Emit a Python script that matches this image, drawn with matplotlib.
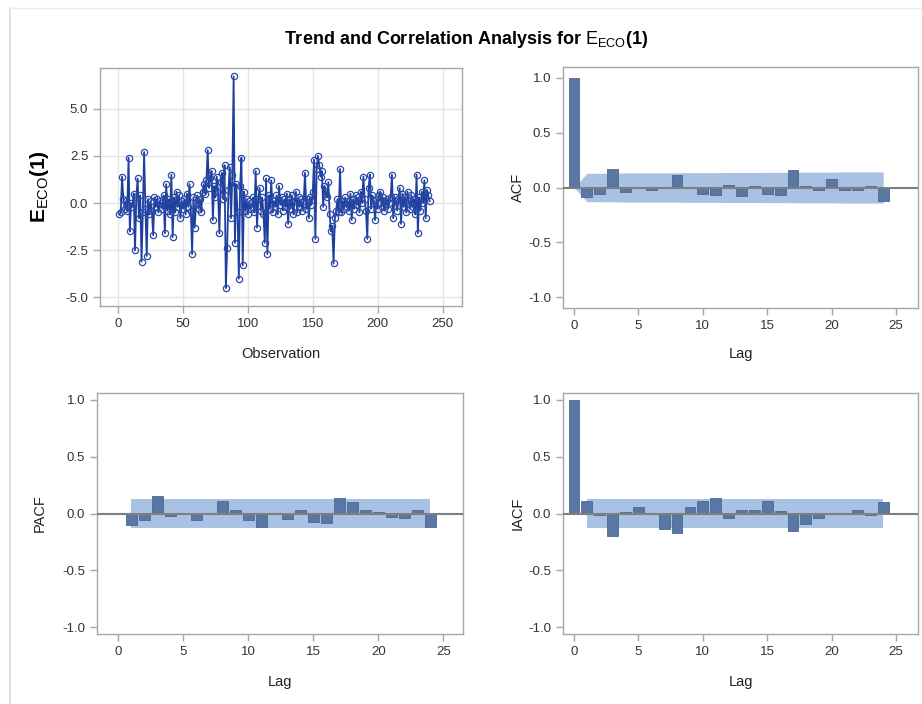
import numpy as np
import matplotlib
matplotlib.use("Agg")
import matplotlib.pyplot as plt

plt.rcParams['font.family'] = ['Liberation Sans', 'DejaVu Sans']
plt.rcParams['mathtext.fontset'] = 'custom'
plt.rcParams['mathtext.rm'] = 'Liberation Sans'
plt.rcParams['mathtext.bf'] = 'Liberation Sans:bold'
plt.rcParams['mathtext.it'] = 'Liberation Sans:italic'

# ---------------- data ----------------
series = [
    -0.6, -0.5, 1.4, 0.2, -0.3, 0.1, -0.4, 2.4, -1.5, 0.0,
    -0.2, 0.5, -2.5, 0.3, 1.3, -0.8, 0.4, -3.1, -0.5, 2.7,
    -0.3, -2.8, 0.2, -0.6, 0.1, -0.4, -1.7, 0.3, -0.2, 0.2,
    -0.5, 0.1, 0.0, -0.3, 0.4, -1.6, 1.0, -0.4, 0.2, -0.6,
    1.5, -1.8, 0.3, -0.5, 0.6, -0.2, 0.4, -0.8, 0.1, -0.3,
    0.2, -0.6, 0.5, -0.2, 1.0, -0.4, -2.7, 0.3, -1.3, 0.0,
    0.4, -0.3, 0.2, -0.5, 0.6, 1.0, 0.5, 1.2, 2.8, 0.8,
    1.3, 1.7, -0.9, 0.9, 0.3, 1.4, 0.6, -1.6, 1.1, 1.6,
    0.2, 2.0, -4.5, -2.4, 0.7, 1.9, -0.8, 1.5, 6.7, -2.1,
    1.0, -0.5, -4.0, 0.9, 2.4, -3.3, 0.6, -0.4, 0.2, -0.6,
    0.1, -0.3, -0.2, 0.3, -0.5, 1.7, -1.3, 0.2, 0.8, -0.4,
    0.3, -0.6, -2.1, 1.3, -2.7, 0.4, -0.3, 1.2, -0.5, 0.1,
    -0.2, 0.4, -0.6, 0.9, -0.1, 0.3, -0.4, 0.2, -0.2, 0.5,
    -1.1, 0.2, -0.3, 0.4, -0.6, 0.1, 0.6, -0.5, 0.3, -0.2,
    0.2, -0.4, 0.1, 1.6, -0.3, 0.2, -0.8, 0.3, -0.1, 0.6,
    2.3, -1.9, 1.8, 2.5, 2.0, 1.4, 1.7, -0.2, 0.9, 0.5,
    0.3, 1.1, -0.6, -1.5, -1.2, -3.2, -0.8, -0.4, 0.2, -0.5,
    1.8, -0.5, 0.1, -0.3, 0.3, -0.2, 0.1, -0.4, 0.5, -0.9,
    0.2, -0.3, 0.4, -0.1, 0.3, -0.5, 0.6, 0.0, 1.4, 0.2,
    -0.4, -1.9, 0.8, 1.5, -0.3, 0.4, 0.1, -0.9, 0.2, -0.3,
    0.4, 0.6, -0.2, 0.3, -0.4, 0.1, 0.2, -0.3, 0.0, 0.3,
    1.5, -0.8, 0.3, 0.1, -0.4, 0.2, 0.8, -1.1, 0.5, -0.2,
    0.3, -0.5, 0.6, 0.1, -0.3, 0.4, -0.2, 0.2, -0.6, 1.5,
    -1.6, 0.3, -0.4, 0.6, 0.0, 1.2, -0.8, 0.7, 0.4, 0.1,
]
observation = list(range(1, len(series) + 1))

lags = list(range(0, 25))
acf = [1.0, -0.09, -0.06, 0.17, -0.045, -0.005, -0.02, 0.0, 0.115, -0.005,
       -0.055, -0.065, 0.02, -0.08, 0.015, -0.06, -0.065, 0.16, 0.015, -0.02,
       0.08, -0.02, -0.025, 0.015, -0.125]
acf_band = [0.0, 0.129, 0.130, 0.130, 0.134, 0.134, 0.134, 0.134, 0.134, 0.136,
            0.136, 0.136, 0.137, 0.137, 0.137, 0.138, 0.138, 0.139, 0.141, 0.141,
            0.141, 0.142, 0.142, 0.142, 0.142]

pacf_lags = list(range(1, 25))
pacf = [-0.10, -0.06, 0.15, -0.02, -0.005, -0.06, 0.005, 0.11, 0.03, -0.06,
        -0.12, 0.0, -0.05, 0.035, -0.075, -0.08, 0.14, 0.10, 0.035, 0.015,
        -0.03, -0.04, 0.035, -0.12]
pacf_band = 0.125

iacf = [1.0, 0.113, -0.01, -0.2, 0.01, 0.06, 0.005, -0.14, -0.17, 0.053,
        0.11, 0.14, -0.04, 0.03, 0.03, 0.11, 0.024, -0.155, -0.09, -0.04,
        -0.005, 0.0, 0.033, -0.01, 0.10]
iacf_band = 0.125

# ---------------- style ----------------
W, H = 922, 704
fig = plt.figure(figsize=(W / 100, H / 100), dpi=100)
fig.patch.set_facecolor('white')

FRAME = '#a6a6a6'
BAR = '#5a76a4'
BAND = '#a9c2e4'
LINEC = '#1f3f9e'
TS = 9.5


def ax_at(l, t, r, b):
    return fig.add_axes([l / W, 1 - b / H, (r - l) / W, (b - t) / H])


def style(ax):
    for s in ax.spines.values():
        s.set_color(FRAME)
        s.set_linewidth(1.0)
    ax.tick_params(direction='out', length=5, width=1, color=FRAME,
                   labelcolor='#333333', labelsize=TS)


# outer faint frame
fig.add_artist(plt.Line2D([10 / W, 10 / W], [0, 1 - 8 / H], color='#dcdcdc', lw=1.2))
fig.add_artist(plt.Line2D([10 / W, 1], [1 - 8 / H, 1 - 8 / H], color='#ececec', lw=1.0))

# title
fig.text(466 / W, 1 - 40 / H,
         r'Trend and Correlation Analysis for $\mathrm{E}_{\mathrm{ECO}}\mathbf{(1)}$',
         ha='center', va='center', fontsize=13, fontweight='bold', color='black')

# ---- panel 1: series ----
ax1 = ax_at(100, 68, 462, 306)
style(ax1)
ax1.grid(True, color='#e4e4e4', lw=1)
ax1.set_axisbelow(True)
ax1.plot(observation, series, color=LINEC, lw=1.3, marker='o', ms=4.5,
         mfc='none', mec='#2a4aa8', mew=0.9)
ax1.set_xlim(-14, 265)
ax1.set_ylim(-5.45, 7.15)
ax1.set_xticks([0, 50, 100, 150, 200, 250])
ax1.set_yticks([-5.0, -2.5, 0.0, 2.5, 5.0])
ax1.set_yticklabels(['-5.0', '-2.5', '0.0', '2.5', '5.0'])
ax1.set_xlabel('Observation', fontsize=10.5, color='#222222')
ax1.xaxis.set_label_coords(0.5, -(347 - 306) / 238)
ax1.set_ylabel(r'$\mathbf{E}_{\mathrm{ECO}}\mathbf{(1)}$', fontsize=15, color='black')
ax1.yaxis.set_label_coords(-(100 - 51) / 362, 0.5)


def corr_panel(ax, x, y, band_x, band_lo, band_hi, xlim, ylim, label):
    style(ax)
    ax.fill_between(band_x, band_lo, band_hi, color=BAND, lw=0, zorder=1)
    ax.bar(x, y, width=0.84, color=BAR, edgecolor='#4d6890', lw=0.6, zorder=2)
    ax.axhline(0, color='#7f7f7f', lw=1.5, zorder=3)
    ax.set_xlim(*xlim)
    ax.set_ylim(*ylim)
    ax.set_xticks([0, 5, 10, 15, 20, 25])
    ax.set_yticks([-1.0, -0.5, 0.0, 0.5, 1.0])
    ax.set_yticklabels(['-1.0', '-0.5', '0.0', '0.5', '1.0'])
    ax.set_xlabel('Lag', fontsize=10.5, color='#222222')
    ax.set_ylabel(label, fontsize=10.5, color='#222222')


# ---- panel 2: ACF ----
ax2 = ax_at(563, 67, 918, 308)
corr_panel(ax2, lags, acf, lags, [-b for b in acf_band], acf_band,
           (-0.85, 26.7), (-1.1, 1.1), 'ACF')
ax2.xaxis.set_label_coords(0.5, -(347 - 308) / 241)
ax2.yaxis.set_label_coords(-(563 - 525) / 355, 0.5)

# ---- panel 3: PACF ----
ax3 = ax_at(97, 393, 463, 634)
corr_panel(ax3, pacf_lags, pacf, pacf_lags, [-pacf_band] * len(pacf_lags),
           [pacf_band] * len(pacf_lags), (-1.65, 26.5), (-1.06, 1.06), 'PACF')
ax3.xaxis.set_label_coords(0.5, -(675 - 634) / 241)
ax3.yaxis.set_label_coords(-(97 - 47) / 366, 0.5)

# ---- panel 4: IACF ----
ax4 = ax_at(563, 393, 918, 634)
corr_panel(ax4, lags, iacf, lags[1:], [-iacf_band] * 24, [iacf_band] * 24,
           (-0.85, 26.7), (-1.06, 1.06), 'IACF')
ax4.xaxis.set_label_coords(0.5, -(675 - 634) / 241)
ax4.yaxis.set_label_coords(-(563 - 525) / 355, 0.5)

fig.savefig('out.png', dpi=100, facecolor='white')
